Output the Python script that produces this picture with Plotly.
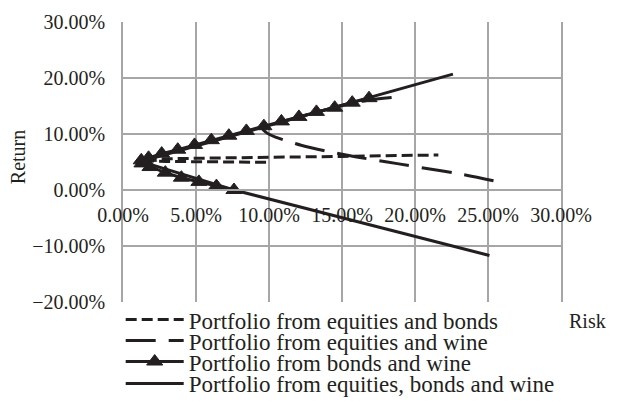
import plotly.graph_objects as go

# ---- data (risk %, return %) ----
eb_risk = [9.8, 6.0, 3.0, 1.5, 1.3, 2.0, 5.0, 10.0, 15.0, 21.6]
eb_ret = [4.95, 5.0, 5.1, 5.2, 5.35, 5.55, 5.7, 5.85, 6.0, 6.25]

ew_risk = [18.4, 16.7, 15.7, 14.5, 13.25, 12.05, 10.85, 9.5, 9.8, 10.5, 11.3, 12.2, 14.2, 16.0, 18.1, 20.2, 23.3, 25.8]
ew_ret = [16.5, 16.0, 15.5, 14.7, 13.9, 13.0, 12.2, 11.2, 10.3, 9.4, 8.7, 8.0, 6.8, 5.9, 5.0, 4.1, 2.75, 1.4]

bw_risk = [7.6, 6.4, 5.2, 4.0, 2.9, 1.85, 1.3, 1.25, 1.75, 2.65, 3.75, 4.9, 6.05, 7.25, 8.45, 9.65, 10.85, 12.05, 13.25, 14.5, 15.7, 16.85]
bw_ret = [0.0, 0.7, 1.45, 2.2, 3.1, 4.1, 4.75, 5.3, 5.75, 6.5, 7.2, 8.05, 8.9, 9.7, 10.55, 11.4, 12.25, 13.05, 13.95, 14.7, 15.6, 16.4]

ebw_risk = [25.1, 15.0, 7.6, 1.2, 11.0, 22.6]
ebw_ret = [-11.7, -4.9, 0.0, 5.1, 12.3, 20.7]

names = [
    "Portfolio from equities and bonds",
    "Portfolio from equities and wine",
    "Portfolio from bonds and wine",
    "Portfolio from equities, bonds and wine",
]

x_ticks = [0, 5, 10, 15, 20, 25, 30]
x_labels = ["0.00%", "5.00%", "10.00%", "15.00%", "20.00%", "25.00%", "30.00%"]
y_ticks = [-20, -10, 0, 10, 20, 30]
y_labels = ["\u221220.00%", "\u221210.00%", "0.00%", "10.00%", "20.00%", "30.00%"]

INK = "#231f20"
FONT = "Liberation Serif"
GRID = "#a6a6a6"

fig = go.Figure()
fig.add_trace(go.Scatter(x=eb_risk, y=eb_ret, mode="lines", name=names[0],
                         line=dict(color=INK, width=3, dash="11px,5px"),
                         legend="legend"))
fig.add_trace(go.Scatter(x=ew_risk, y=ew_ret, mode="lines", name=names[1],
                         line=dict(color=INK, width=3, dash="30px,13px", shape="spline"),
                         legend="legend2"))
fig.add_trace(go.Scatter(x=bw_risk, y=bw_ret, mode="lines+markers", name=names[2],
                         line=dict(color=INK, width=3),
                         marker=dict(symbol="triangle-up", size=14, color=INK,
                                     line=dict(color=INK, width=1)),
                         legend="legend3"))
fig.add_trace(go.Scatter(x=ebw_risk, y=ebw_ret, mode="lines", name=names[3],
                         line=dict(color=INK, width=3),
                         legend="legend4"))

# plot area in page pixels: left 123.3, right 561.3, top 21.7, bottom 302.3
PL, PR, PT, PB = 123.3, 561.3, 21.7, 302.3
W = PR - PL
H = PB - PT
OFF = 8  # default page body margin

def px(p):
    return (p - PL) / W

def py(p):
    return (PB - p) / H

leg_common = dict(xanchor="left", yanchor="middle", bgcolor="rgba(0,0,0,0)",
                  font=dict(family=FONT, size=23, color=INK), itemwidth=58,
                  borderwidth=0, tracegroupgap=0)
fig.update_layout(
    width=632, height=415,
    margin=dict(l=PL - OFF, r=632 + OFF - PR, t=PT - OFF, b=415 + OFF - PB),
    paper_bgcolor="white", plot_bgcolor="white",
    font=dict(family=FONT, size=20, color=INK),
    showlegend=True,
    legend=dict(x=px(121), y=py(320), **leg_common),
    legend2=dict(x=px(121), y=py(341), **leg_common),
    legend3=dict(x=px(121), y=py(362), **leg_common),
    legend4=dict(x=px(121), y=py(384), **leg_common),
    xaxis=dict(range=[0, 30], tickvals=x_ticks, ticktext=x_labels,
               showgrid=True, gridcolor=GRID, gridwidth=1.5,
               zeroline=False, showline=True, linecolor=GRID, linewidth=1.5,
               anchor="free", position=0.4, ticks="", ticklabelstandoff=7,
               automargin=False, tickfont=dict(family=FONT, size=20, color=INK)),
    yaxis=dict(range=[-20, 30], tickvals=y_ticks, ticktext=y_labels,
               showgrid=True, gridcolor=GRID, gridwidth=1.5,
               zeroline=False, showline=True, mirror=True, linecolor=GRID, linewidth=1.5,
               ticks="", ticklabelstandoff=12, automargin=False,
               tickfont=dict(family=FONT, size=20, color=INK)),
    annotations=[
        dict(text="Return", x=px(18), y=py(157.5), xref="paper", yref="paper",
             xanchor="center", yanchor="middle",
             textangle=-90, showarrow=False, font=dict(family=FONT, size=20, color=INK)),
        dict(text="Risk", x=px(588), y=py(321), xref="paper", yref="paper",
             xanchor="center", yanchor="middle",
             showarrow=False, font=dict(family=FONT, size=20, color=INK)),
    ],
)

fig.write_html("out.html")
